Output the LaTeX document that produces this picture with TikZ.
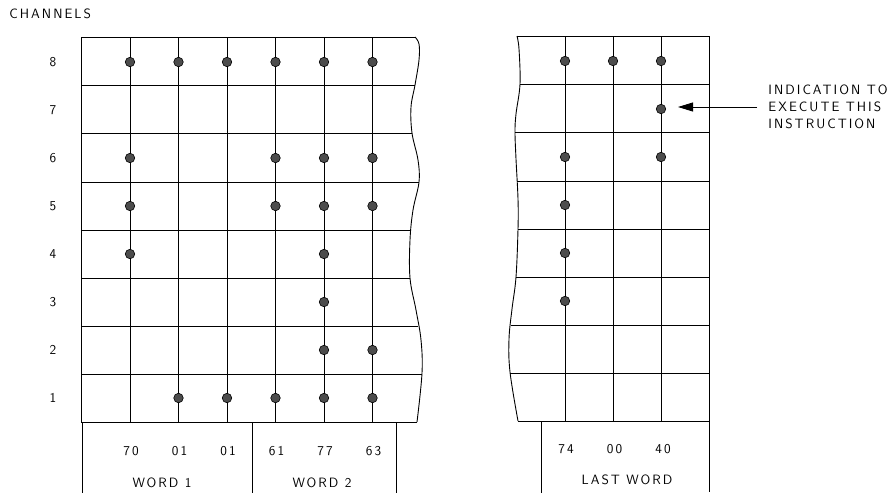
\documentclass[tikz,border=0pt]{standalone}
\usepackage{fontspec}
\usepackage{tikz}
\usetikzlibrary{arrows.meta,positioning}
\newfontfamily\tapefont{Latin Modern Sans}[LetterSpace=15]

\begin{document}
\begin{tikzpicture}[x=1pt, y=-1pt, line width=0.9pt,
  hole/.style={circle, draw, line width=0.6pt, fill=black!70, inner sep=0pt, minimum size=9.5pt},
  lbl/.style={font=\tapefont\fontsize{13.5}{17}\selectfont, inner sep=0pt}]
\useasboundingbox (0,0) rectangle (888,493);
\node[lbl, anchor=west] (chan) at (9,14) {CHANNELS};
% ---------- left tape ----------
\draw (415,37) -- (81,37) -- (81,422) -- (417,422);
\draw plot[smooth, tension=0.6] coordinates {(415,37) (419,44) (419,60) (415,85)
  (411,107) (412,133) (418,160) (419,182) (413,210) (410,240) (410,278) (416,310)
  (421,340) (422,373) (417,422)};
\foreach \y/\xe in {85/415, 133/412, 182/419, 230/411, 278/410, 326/418, 374/422}
  {\draw (81,\y) -- (\xe,\y);}
\foreach \x in {130,178.5,227,275.5,324,372.5}{\draw (\x,37) -- (\x,422);}
\foreach \r in {1,...,8}{\node[lbl] (ch\r) at (53,{62+48*(8-\r)}) {\r};}
% holes: column/channel
\foreach \c/\r in {1/8,2/8,3/8,4/8,5/8,6/8, 1/6,4/6,5/6,6/6, 1/5,4/5,5/5,6/5,
  1/4,5/4, 5/3, 5/2,6/2, 2/1,3/1,4/1,5/1,6/1}
  {\node[hole] (h\c-\r) at ({130+48.5*(\c-1)},{62+48*(8-\r)}) {};}
% ---------- words ----------
\draw (82,422) -- (82,493);
\draw (252,422) -- (252,493);
\draw (396,422) -- (396,493);
\foreach \c/\v in {1/70,2/01,3/01,4/61,5/77,6/63}
  {\node[lbl] (w\c) at ({131+48.5*(\c-1)},451) {\v};}
\node[lbl] (word1) at (162,483) {WORD 1};
\node[lbl] (word2) at (322,483) {WORD 2};
% ---------- right tape ----------
\begin{scope}[shift={(0,-1)}]
\draw (517,37) -- (709,37) -- (709,493);
\draw (518,422) -- (709,422);
\draw plot[smooth, tension=0.6] coordinates {(517,37) (519,50) (520,85) (516,115)
  (515,133) (516,160) (518,200) (518,230) (516,278) (512,310) (509,340) (510,373)
  (518,422)};
\foreach \y/\xs in {85/520, 133/515, 182/517, 230/518, 278/516, 326/511, 374/510}
  {\draw (\xs,\y) -- (709,\y);}
\foreach \x in {565,613,661}{\draw (\x,37) -- (\x,422);}
\foreach \c/\r in {1/8,2/8,3/8, 3/7, 1/6,3/6, 1/5, 1/4, 1/3}
  {\node[hole] (k\c-\r) at ({565+48*(\c-1)},{62+48*(8-\r)}) {};}
\draw (541,422) -- (541,494);
\end{scope}
\foreach \c/\v in {1/74,2/00,3/40}
  {\node[lbl] (l\c) at ({566+48.5*(\c-1)},449) {\v};}
\node[lbl] (lastword) at (627,480) {LAST WORD};
% ---------- indication ----------
\node[lbl, anchor=west, align=left] (ind) at (768,107)
  {INDICATION TO\\EXECUTE THIS\\INSTRUCTION};
\coordinate (tip) at (678,107);
\draw[-{Triangle[length=15pt,width=9pt]}, shorten <=11pt] (ind.west) -- (tip);
\end{tikzpicture}
\end{document}
